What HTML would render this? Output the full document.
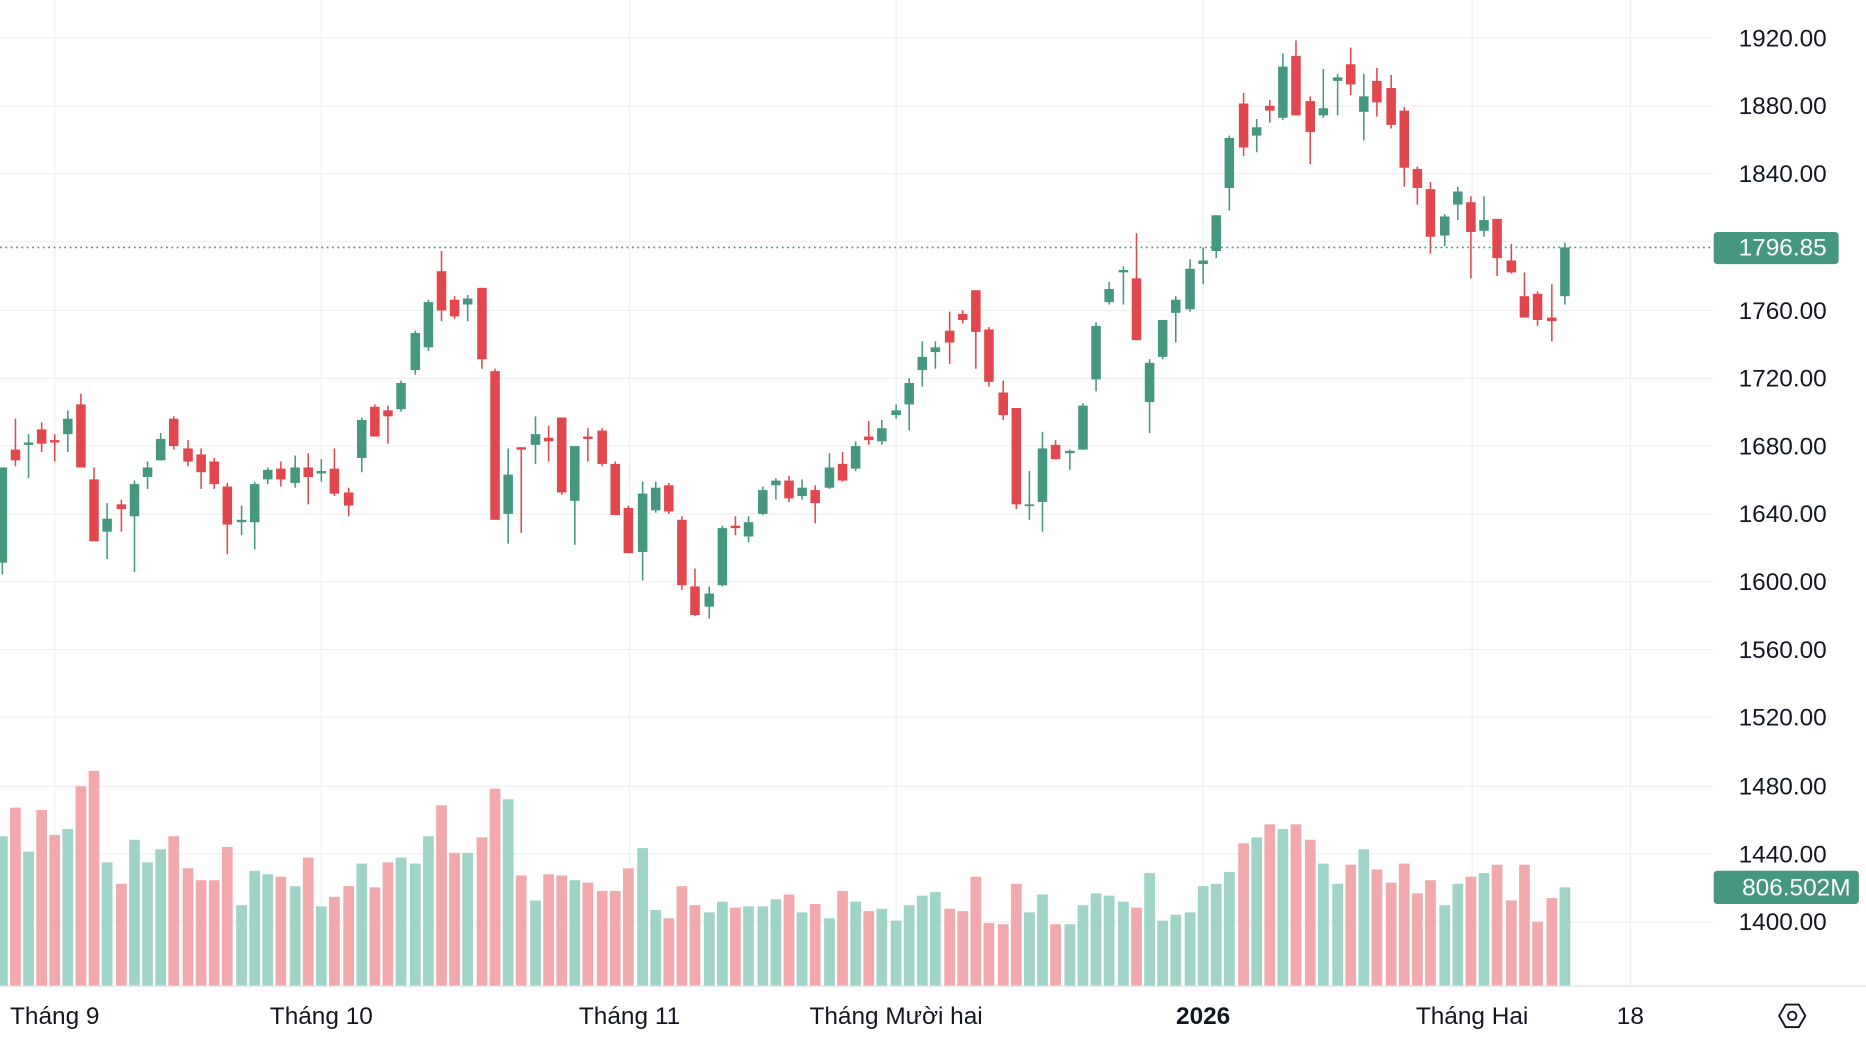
<!DOCTYPE html>
<html><head><meta charset="utf-8"><style>
html,body{margin:0;padding:0;background:#fff;width:1866px;height:1042px;overflow:hidden}
svg{display:block}
text{font-family:"Liberation Sans",sans-serif}
</style></head><body>
<svg id="s" width="1866" height="1042" viewBox="0 0 1568 876" preserveAspectRatio="none">
<g stroke="#f0f0f0" stroke-width="1">
<line x1="0" x2="1440" y1="32" y2="32"/><line x1="0" x2="1440" y1="89" y2="89"/><line x1="0" x2="1440" y1="146" y2="146"/>
<line x1="0" x2="1440" y1="203" y2="203"/><line x1="0" x2="1440" y1="261" y2="261"/><line x1="0" x2="1440" y1="318" y2="318"/>
<line x1="0" x2="1440" y1="375" y2="375"/><line x1="0" x2="1440" y1="432" y2="432"/><line x1="0" x2="1440" y1="489" y2="489"/>
<line x1="0" x2="1440" y1="546" y2="546"/><line x1="0" x2="1440" y1="603" y2="603"/><line x1="0" x2="1440" y1="661" y2="661"/>
<line x1="0" x2="1440" y1="718" y2="718"/><line x1="0" x2="1440" y1="775" y2="775"/>
<line x1="46" x2="46" y1="0" y2="829"/><line x1="270" x2="270" y1="0" y2="829"/><line x1="529" x2="529" y1="0" y2="829"/>
<line x1="753" x2="753" y1="0" y2="829"/><line x1="1011" x2="1011" y1="0" y2="829"/><line x1="1237" x2="1237" y1="0" y2="829"/><line x1="1370" x2="1370" y1="0" y2="829"/>
</g>
<g id="vol"></g>
<g id="cd"></g>
<line x1="0" x2="1440" y1="208" y2="208" stroke="#3f9a7e" stroke-width="1.3" stroke-dasharray="1.5 3"/>
<line x1="0" x2="1568" y1="829" y2="829" stroke="#e0e3eb" stroke-width="1"/>
<g font-size="20.5" fill="#131722" text-anchor="end">
<text x="1535" y="39">1920.00</text><text x="1535" y="96">1880.00</text><text x="1535" y="153">1840.00</text>
<text x="1535" y="268">1760.00</text><text x="1535" y="325">1720.00</text><text x="1535" y="382">1680.00</text>
<text x="1535" y="439">1640.00</text><text x="1535" y="496">1600.00</text><text x="1535" y="553">1560.00</text>
<text x="1535" y="610">1520.00</text><text x="1535" y="668">1480.00</text><text x="1535" y="725">1440.00</text>
<text x="1535" y="782">1400.00</text>
</g>
<rect x="1440" y="195" width="105" height="27" rx="3" fill="#45977f"/>
<text x="1535" y="215" font-size="20.5" fill="#fff" text-anchor="end">1796.85</text>
<rect x="1440" y="732" width="122" height="28" rx="3" fill="#45977f"/>
<text x="1555" y="753" font-size="20.5" fill="#fff" text-anchor="end">806.502M</text>
<g font-size="20.5" fill="#131722" text-anchor="middle">
<text x="46" y="861">Tháng 9</text><text x="270" y="861">Tháng 10</text><text x="529" y="861">Tháng 11</text>
<text x="753" y="861">Tháng Mười hai</text><text x="1011" y="861" font-weight="bold">2026</text>
<text x="1237" y="861">Tháng Hai</text><text x="1370" y="861">18</text>
</g>
<g transform="translate(1506,854)" fill="none" stroke="#131722" stroke-width="1.6">
<polygon points="-11,0 -5.5,-9.5 5.5,-9.5 11,0 5.5,9.5 -5.5,9.5"/><circle r="3.5"/>
</g>
</svg>
<script>
var C=[[2,'G',393,473,393,483],[13,'R',378,387,352,392],[24,'G',372,374,365,402],[35,'R',361,373,355,380],[46,'R',370,372,365,388],[57,'G',352,365,345,380],[68,'R',340,393,331,393],[79,'R',403,455,393,455],[90,'G',436,447,423,470],[102,'R',424,428,420,447],[113,'G',407,434,404,481],[124,'G',393,401,388,411],[135,'G',369,387,364,387],[146,'R',352,375,350,378],[158,'R',377,388,370,392],[169,'R',382,397,377,411],[180,'R',388,407,385,411],[191,'R',409,441,406,466],[203,'G',437,439,425,450],[214,'G',407,439,405,462],[225,'G',395,403,393,407],[236,'R',394,403,388,409],[248,'G',393,406,383,410],[259,'R',393,401,381,424],[270,'G',396,398,386,405],[281,'R',394,415,377,417],[293,'R',414,425,410,434],[304,'G',353,385,351,397],[315,'R',342,367,340,367],[326,'R',345,350,341,373],[337,'G',322,344,320,346],[349,'G',280,311,278,315],[360,'G',254,292,252,295],[371,'R',228,261,211,270],[382,'R',252,266,249,268],[393,'G',251,256,248,270],[405,'R',242,302,242,310],[416,'R',312,437,310,437],[427,'G',399,432,377,457],[438,'R',376,378,376,448],[450,'G',365,374,350,390],[461,'R',368,371,358,388],[472,'R',351,414,351,416],[483,'G',375,421,375,458],[494,'R',367,369,360,388],[506,'R',362,390,360,392],[517,'R',390,433,388,433],[528,'R',427,465,425,465],[540,'G',415,464,405,488],[551,'G',410,429,405,431],[562,'R',408,430,406,432],[573,'R',437,492,434,496],[584,'R',493,517,478,518],[596,'G',499,510,493,520],[607,'G',444,492,442,493],[618,'R',442,444,434,450],[629,'G',439,451,434,456],[641,'G',412,432,409,433],[652,'G',404,408,402,420],[663,'R',404,419,400,422],[674,'G',410,417,403,420],[685,'R',412,423,408,440],[697,'G',393,410,381,411],[708,'R',390,404,380,405],[719,'G',375,394,371,396],[730,'R',367,370,354,374],[741,'G',360,371,353,374],[753,'G',345,349,340,352],[764,'G',322,340,318,362],[775,'G',300,311,287,325],[786,'G',292,296,287,310],[798,'R',278,288,262,306],[809,'R',264,269,261,272],[820,'R',244,279,244,310],[831,'R',277,321,275,325],[843,'R',330,349,320,353],[854,'R',343,424,343,428],[865,'G',424,425,396,437],[876,'G',377,422,363,447],[887,'R',374,386,370,386],[899,'G',379,381,378,395],[910,'G',341,378,339,378],[921,'G',274,319,271,329],[932,'G',243,254,237,256],[944,'G',227,229,224,256],[955,'R',234,286,196,286],[966,'G',305,338,302,364],[977,'G',269,300,269,302],[988,'G',252,263,249,288],[1000,'G',226,260,218,262],[1011,'G',219,222,208,239],[1022,'G',181,211,181,217],[1033,'G',116,158,114,177],[1045,'R',87,124,78,131],[1056,'G',107,114,100,128],[1067,'R',89,93,84,103],[1078,'G',56,99,45,101],[1089,'R',47,97,34,97],[1101,'R',85,111,81,138],[1112,'G',91,97,58,99],[1124,'G',65,68,62,97],[1135,'R',54,71,40,80],[1146,'G',81,94,62,118],[1157,'R',68,86,57,98],[1169,'R',74,105,63,108],[1180,'R',93,141,90,157],[1191,'R',142,158,140,172],[1202,'R',159,199,153,213],[1214,'G',182,198,180,207],[1225,'G',161,172,157,185],[1236,'R',170,195,165,234],[1247,'G',185,194,165,199],[1258,'R',184,217,184,232],[1270,'R',219,229,205,230],[1281,'R',249,267,229,267],[1292,'R',247,269,245,274],[1304,'R',267,270,239,287],[1315,'G',208,249,204,256]];
var V=[703,679,716,681,702,697,661,648,725,743,706,725,714,703,730,740,740,712,761,732,735,737,745,721,762,754,745,726,746,725,721,726,703,677,717,717,704,663,672,736,757,735,736,740,742,749,749,730,713,765,772,745,761,767,758,763,762,762,756,752,767,760,772,749,758,766,764,774,761,753,750,764,766,737,776,777,743,767,752,777,777,761,751,753,758,763,734,774,769,767,745,743,733,709,704,693,697,693,706,726,743,727,714,731,742,726,751,740,761,743,737,734,727,757,727,775,755,746];
var cd='',vo='';
C.forEach(function(c,i){var col=c[1]=='G'?'#45977f':'#e2474e',vc=c[1]=='G'?'#9fd4c6':'#f1a9ad';var x=c[0];
cd+='<line x1="'+x+'" x2="'+x+'" y1="'+c[4]+'" y2="'+c[5]+'" stroke="'+col+'" stroke-width="1.3"/>';
var h=Math.max(c[3]-c[2],1.5);cd+='<rect x="'+(x-4)+'" y="'+c[2]+'" width="8" height="'+h+'" fill="'+col+'"/>';
vo+='<rect x="'+(x-4.5)+'" y="'+V[i]+'" width="9" height="'+(829-V[i])+'" fill="'+vc+'"/>';});
document.getElementById('cd').innerHTML=cd;document.getElementById('vol').innerHTML=vo;
</script>
</body></html>
